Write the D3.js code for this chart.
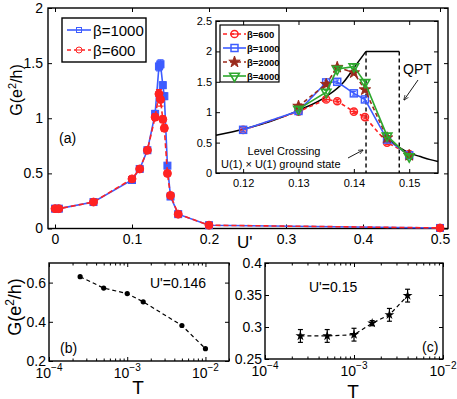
<!DOCTYPE html>
<html><head><meta charset="utf-8">
<script src="https://cdn.jsdelivr.net/npm/d3@7"></script>
<style>body{margin:0;background:#fff}svg{display:block;font-family:"Liberation Sans",Arial,sans-serif}</style>
</head><body><svg id="c" width="457" height="399"></svg>
<script>
// ---- Panel (a) main data ----
const uMain = [0, 0.005, 0.05, 0.1, 0.11, 0.12, 0.13, 0.135, 0.137, 0.14, 0.142, 0.146, 0.15, 0.16, 0.2, 0.5];
const gB1000 = [0.18, 0.18, 0.24, 0.44, 0.54, 0.71, 1.04, 1.47, 1.49, 1.30, 1.20, 0.57, 0.29, 0.13, 0.03, 0.005];
const eB1000 = [0.01, 0.01, 0.01, 0.02, 0.02, 0.02, 0.03, 0.04, 0.04, 0.03, 0.03, 0.02, 0.02, 0.01, 0.01, 0.01];
const gB600 = [0.18, 0.18, 0.24, 0.45, 0.54, 0.71, 1.01, 1.22, 1.17, 0.99, 0.91, 0.50, 0.30, 0.13, 0.03, 0.005];
const eB600 = [0.01, 0.01, 0.01, 0.02, 0.02, 0.02, 0.03, 0.04, 0.06, 0.03, 0.03, 0.02, 0.02, 0.01, 0.01, 0.01];
const xTicksA = [0, 0.1, 0.2, 0.3, 0.4, 0.5];
const yTicksA = [0, 0.5, 1, 1.5, 2];

// ---- Inset data ----
const uIn = [0.12, 0.13, 0.135, 0.137, 0.14, 0.142, 0.146, 0.15];
const in600 = [0.71, 1.01, 1.21, 1.18, 1.01, 0.92, 0.50, 0.31];
const in1000 = [0.71, 1.02, 1.49, 1.50, 1.31, 1.21, 0.55, 0.29];
const uIn2 = [0.13, 0.135, 0.137, 0.14, 0.142, 0.146, 0.15];
const in2000 = [1.10, 1.46, 1.74, 1.65, 1.37, 0.58, 0.29];
const in4000 = [1.05, 1.33, 1.71, 1.75, 1.49, 0.61, 0.27];
const curveLU = [0.1151, 0.12, 0.125, 0.13, 0.1352, 0.1381, 0.1405, 0.1422];
const curveLG = [0.62, 0.72, 0.85, 1.03, 1.27, 1.49, 1.79, 2.0];
const flatU = [0.1422, 0.1482];
const flatG = [2.0, 2.0];
const curveRU = [0.1455, 0.147, 0.1482, 0.15, 0.152, 0.1538, 0.1552];
const curveRG = [0.62, 0.50, 0.42, 0.33, 0.27, 0.22, 0.19];
const vLines = [0.1422, 0.1482];
const xTicksIn = [0.12, 0.13, 0.14, 0.15];
const yTicksIn = [0, 0.5, 1, 1.5, 2, 2.5];

// ---- Panel (b) ----
const tB = [2.5e-4, 5e-4, 1e-3, 1.6e-3, 5e-3, 1e-2];
const gB = [0.63, 0.572, 0.544, 0.502, 0.381, 0.263];
const yTicksB = [0.2, 0.4, 0.6];
// ---- Panel (c) ----
const tC = [2.5e-4, 5e-4, 1e-3, 1.6e-3, 2.5e-3, 4e-3];
const gC = [0.286, 0.286, 0.288, 0.306, 0.319, 0.349];
const eC = [0.010, 0.010, 0.010, 0.004, 0.010, 0.010];
const yTicksC = [0.25, 0.3, 0.35, 0.4];
const logMajor = [1e-4, 1e-3, 1e-2];

const svg = d3.select("#c");
const BLUE = "#3d5cff", RED = "#ff2222", BROWN = "#9a2a1c", GREEN = "#2ea82e";

function axes(g, x, y, xt, yt, opt) {
  const [x0, x1] = x.range(), [y1, y0] = y.range();
  const ts = opt.ts || 4;
  const bx = g.append("g").attr("transform", `translate(0,${y1})`)
    .call(d3.axisBottom(x).tickValues(xt).tickSize(-ts).tickPadding(opt.xpad || 6).tickFormat(opt.xfmt || (d => d)));
  const tx = g.append("g").attr("transform", `translate(0,${y0})`)
    .call(d3.axisTop(x).tickValues(xt).tickSize(-ts).tickFormat(""));
  const ly = g.append("g").attr("transform", `translate(${x0},0)`)
    .call(d3.axisLeft(y).tickValues(yt).tickSize(-ts).tickPadding(opt.ypad || 4).tickFormat(opt.yfmt || (d => d)));
  const ry = g.append("g").attr("transform", `translate(${x1},0)`)
    .call(d3.axisRight(y).tickValues(yt).tickSize(-ts).tickFormat(""));
  [bx, tx, ly, ry].forEach(a => {
    a.selectAll("path.domain").remove();
    a.selectAll("line").attr("stroke", "#000").attr("stroke-width", 1);
    a.selectAll("text").attr("fill", "#000").style("font-size", opt.fs + "px").style("font-family", '"Liberation Sans",Arial,sans-serif');
  });
  g.append("rect").attr("x", x0).attr("y", y0).attr("width", x1 - x0).attr("height", y1 - y0)
    .attr("fill", "none").attr("stroke", "#000").attr("stroke-width", 1.4);
  return bx;
}

function errbars(g, xs, ys, es, x, y, color, cw) {
  xs.forEach((u, i) => {
    const px = x(u), pa = y(ys[i] - es[i]), pb = y(ys[i] + es[i]);
    g.append("line").attr("x1", px).attr("x2", px).attr("y1", pa).attr("y2", pb).attr("stroke", color).attr("stroke-width", 1.2);
    [pa, pb].forEach(p => g.append("line").attr("x1", px - cw).attr("x2", px + cw).attr("y1", p).attr("y2", p).attr("stroke", color).attr("stroke-width", 1.2));
  });
}

// ================= Panel (a) =================
const xa = d3.scaleLinear().domain([-0.0091, 0.5104]).range([48, 448]);
const ya = d3.scaleLinear().domain([0, 2]).range([228.5, 8]);
const ga = svg.append("g");
const bxa = axes(ga, xa, ya, xTicksA, yTicksA, {fs: 14, xpad: 6, ypad: 5});
ga.append("g").attr("transform", `translate(0,228.5)`);

const lineA = d3.line().x(d => xa(d[0])).y(d => ya(d[1]));
// blue
ga.append("path").attr("d", lineA(uMain.map((u, i) => [u, gB1000[i]]))).attr("fill", "none").attr("stroke", BLUE).attr("stroke-width", 1.6);
errbars(ga, uMain, gB1000, eB1000, xa, ya, BLUE, 3);
ga.selectAll(".sqA").data(uMain).join("rect").attr("x", (u) => xa(u) - 3.5).attr("y", (u, i) => ya(gB1000[i]) - 3.5)
  .attr("width", 7).attr("height", 7).attr("fill", BLUE).attr("stroke", BLUE).attr("stroke-width", 1);
// red
ga.append("path").attr("d", lineA(uMain.map((u, i) => [u, gB600[i]]))).attr("fill", "none").attr("stroke", RED).attr("stroke-width", 1.6).attr("stroke-dasharray", "5,3");
errbars(ga, uMain, gB600, eB600, xa, ya, RED, 3);
ga.selectAll(".ciA").data(uMain).join("circle").attr("cx", u => xa(u)).attr("cy", (u, i) => ya(gB600[i]))
  .attr("r", 4).attr("fill", RED).attr("stroke", RED);

// legend (a)
const lg = ga.append("g");
lg.append("rect").attr("x", 62).attr("y", 18).attr("width", 84).attr("height", 44).attr("fill", "#fff").attr("stroke", "#000").attr("stroke-width", 1.4);
lg.append("line").attr("x1", 67).attr("x2", 91).attr("y1", 30).attr("y2", 30).attr("stroke", BLUE).attr("stroke-width", 1.6);
lg.append("rect").attr("x", 76.5).attr("y", 27.5).attr("width", 5).attr("height", 5).attr("fill", "none").attr("stroke", BLUE);
lg.append("text").attr("x", 93).attr("y", 35.5).text("β=1000").style("font-size", "15px");
lg.append("line").attr("x1", 67).attr("x2", 91).attr("y1", 50).attr("y2", 50).attr("stroke", RED).attr("stroke-width", 1.6).attr("stroke-dasharray", "4,3");
lg.append("circle").attr("cx", 79).attr("cy", 50).attr("r", 3).attr("fill", "#fff").attr("stroke", RED);
lg.append("line").attr("x1", 76).attr("x2", 82).attr("y1", 50).attr("y2", 50).attr("stroke", RED);
lg.append("text").attr("x", 93).attr("y", 55.5).text("β=600").style("font-size", "15px");

ga.append("text").attr("x", 59).attr("y", 143).text("(a)").style("font-size", "14px");
ga.append("text").attr("x", 237).attr("y", 248).text("U'").style("font-size", "17px");
ga.append("text").attr("transform", "translate(22,90) rotate(-90)").attr("text-anchor", "middle").style("font-size", "16px")
  .call(t => { t.append("tspan").text("G(e"); t.append("tspan").attr("dy", -6).style("font-size", "11px").text("2"); t.append("tspan").attr("dy", 6).text("/h)"); });

// ================= Inset =================
const xi = d3.scaleLinear().domain([0.1151, 0.1552]).range([216, 438]);
const yi = d3.scaleLinear().domain([0, 2.5]).range([173, 21]);
const gi = svg.append("g");
gi.append("rect").attr("x", 216).attr("y", 21).attr("width", 222).attr("height", 152).attr("fill", "#fff");
axes(gi, xi, yi, xTicksIn, yTicksIn, {fs: 11, xpad: 6, ypad: 4, yfmt: d => d});
const lineI = d3.line().x(d => xi(d[0])).y(d => yi(d[1]));
const smooth = d3.line().x(d => xi(d[0])).y(d => yi(d[1])).curve(d3.curveMonotoneX);
gi.append("path").attr("d", smooth(curveLU.map((u, i) => [u, curveLG[i]]))).attr("fill", "none").attr("stroke", "#000").attr("stroke-width", 1.5);
gi.append("path").attr("d", lineI(flatU.map((u, i) => [u, flatG[i]]))).attr("fill", "none").attr("stroke", "#000").attr("stroke-width", 1.5);
gi.append("path").attr("d", smooth(curveRU.map((u, i) => [u, curveRG[i]]))).attr("fill", "none").attr("stroke", "#000").attr("stroke-width", 1.5);
vLines.forEach(v => gi.append("line").attr("x1", xi(v)).attr("x2", xi(v)).attr("y1", yi(2)).attr("y2", yi(0)).attr("stroke", "#000").attr("stroke-width", 1.4).attr("stroke-dasharray", "4,3"));

function series(xs, ys, color, dash, marker) {
  const p = gi.append("path").attr("d", lineI(xs.map((u, i) => [u, ys[i]]))).attr("fill", "none").attr("stroke", color).attr("stroke-width", 1.6);
  if (dash) p.attr("stroke-dasharray", "4,3");
  errbars(gi, xs, ys, xs.map(() => 0.03), xi, yi, color, 2);
  xs.forEach((u, i) => marker(gi, xi(u), yi(ys[i])));
}
const mCircle = (g, x, y) => { g.append("circle").attr("cx", x).attr("cy", y).attr("r", 3.6).attr("fill", "none").attr("stroke", RED).attr("stroke-width", 1.5); g.append("line").attr("x1", x - 3).attr("x2", x + 3).attr("y1", y).attr("y2", y).attr("stroke", RED).attr("stroke-width", 1.2); };
const mSquare = (g, x, y) => g.append("rect").attr("x", x - 3.5).attr("y", y - 3.5).attr("width", 7).attr("height", 7).attr("fill", "none").attr("stroke", BLUE).attr("stroke-width", 1.5);
const mStar = (g, x, y) => g.append("path").attr("d", d3.symbol(d3.symbolStar, 40)()).attr("transform", `translate(${x},${y})`).attr("fill", BROWN).attr("stroke", BROWN);
const mTri = (g, x, y) => g.append("path").attr("d", d3.symbol(d3.symbolTriangle, 40)()).attr("transform", `translate(${x},${y}) rotate(180)`).attr("fill", "none").attr("stroke", GREEN).attr("stroke-width", 1.6);
series(uIn, in600, RED, true, mCircle);
series(uIn, in1000, BLUE, false, mSquare);
series(uIn2, in2000, BROWN, true, mStar);
series(uIn2, in4000, GREEN, false, mTri);

// inset legend
const il = gi.append("g");
il.append("rect").attr("x", 220).attr("y", 25).attr("width", 59).attr("height", 57).attr("fill", "#fff").attr("stroke", "#000").attr("stroke-width", 1.2);
const legI = [["β=600", RED, true, mCircle, 34], ["β=1000", BLUE, false, mSquare, 48], ["β=2000", BROWN, true, mStar, 62], ["β=4000", GREEN, false, mTri, 76]];
legI.forEach(([lab, c, dash, m, yy]) => {
  const l = il.append("line").attr("x1", 223).attr("x2", 246).attr("y1", yy).attr("y2", yy).attr("stroke", c).attr("stroke-width", 1.6);
  if (dash) l.attr("stroke-dasharray", "4,3");
  m(il, 234.5, yy);
  il.append("text").attr("x", 247).attr("y", yy + 3.5).text(lab).style("font-size", "9.5px").style("font-weight", "bold");
});

gi.append("text").attr("x", 284).attr("y", 155).attr("text-anchor", "middle").text("Level Crossing").style("font-size", "11px");
gi.append("text").attr("x", 221).attr("y", 168).text("U(1) × U(1) ground state").style("font-size", "11px");
gi.append("text").attr("x", 403).attr("y", 74).text("QPT").style("font-size", "14px");
svg.append("defs").append("marker").attr("id", "ah").attr("viewBox", "0 0 10 10").attr("refX", 9).attr("refY", 5)
  .attr("markerWidth", 6).attr("markerHeight", 6).attr("orient", "auto")
  .append("path").attr("d", "M0,1 L10,5 L0,9").attr("fill", "none").attr("stroke", "#000").attr("stroke-width", 1.2);
gi.append("line").attr("x1", 348).attr("y1", 158).attr("x2", 363).attr("y2", 150).attr("stroke", "#000").attr("stroke-width", 0.9).attr("marker-end", "url(#ah)");
gi.append("line").attr("x1", 418).attr("y1", 80).attr("x2", 404).attr("y2", 100).attr("stroke", "#000").attr("stroke-width", 0.9).attr("marker-end", "url(#ah)");

// ================= Log panels =================
function logPanel(x, y, yt, pad) {
  const g = svg.append("g");
  const [x0, x1] = x.range(), [y1, y0] = y.range();
  const minors = [];
  [1e-4, 1e-3, 1e-2].forEach(d => { for (let k = 2; k <= 9; k++) { const v = d * k; if (v <= x.domain()[1] * 1.0001) minors.push(v); } });
  [[y1, d3.axisBottom], [y0, d3.axisTop]].forEach(([yy, ax]) => {
    const a = g.append("g").attr("transform", `translate(0,${yy})`).call(ax(x).tickValues(minors).tickSize(-2.5).tickFormat(""));
    a.selectAll("path.domain").remove(); a.selectAll("line").attr("stroke", "#000");
  });
  axes(g, x, y, logMajor, yt, {fs: 14, xpad: 8, ypad: 3, xfmt: () => ""});
  logMajor.forEach(v => {
    const t = g.append("text").attr("x", x(v)).attr("y", y1 + 17).attr("text-anchor", "middle").style("font-size", "14px");
    t.append("tspan").text("10");
    t.append("tspan").attr("dy", -7).style("font-size", "10px").text("−" + Math.round(-Math.log10(v)));
  });
  return g;
}
// (b)
const xb = d3.scaleLog().domain([1e-4, 2e-2]).range([49, 229]);
const yb = d3.scaleLinear().domain([0.2, 0.7]).range([361, 263]);
const gbp = logPanel(xb, yb, yTicksB);
const lineB = d3.line().x(d => xb(d[0])).y(d => yb(d[1]));
gbp.append("path").attr("d", lineB(tB.map((t, i) => [t, gB[i]]))).attr("fill", "none").attr("stroke", "#000").attr("stroke-width", 1.2).attr("stroke-dasharray", "4,3");
tB.forEach((t, i) => gbp.append("circle").attr("cx", xb(t)).attr("cy", yb(gB[i])).attr("r", 2.6).attr("fill", "#000"));
gbp.append("text").attr("x", 150).attr("y", 288).text("U'=0.146").style("font-size", "14px");
gbp.append("text").attr("x", 60).attr("y", 353).text("(b)").style("font-size", "14px");
gbp.append("text").attr("x", 138).attr("y", 394).attr("text-anchor", "middle").text("T").style("font-size", "19px");
gbp.append("text").attr("transform", "translate(21,307) rotate(-90)").attr("text-anchor", "middle").style("font-size", "18px")
  .call(t => { t.append("tspan").text("G(e"); t.append("tspan").attr("dy", -7).style("font-size", "12px").text("2"); t.append("tspan").attr("dy", 7).text("/h)"); });

// (c)
const xc = d3.scaleLog().domain([1e-4, 1e-2]).range([265, 443]);
const yc = d3.scaleLinear().domain([0.25, 0.4]).range([359, 263]);
const gcp = logPanel(xc, yc, yTicksC);
const lineC = d3.line().x(d => xc(d[0])).y(d => yc(d[1]));
gcp.append("path").attr("d", lineC(tC.map((t, i) => [t, gC[i]]))).attr("fill", "none").attr("stroke", "#000").attr("stroke-width", 1.2).attr("stroke-dasharray", "4,3");
errbars(gcp, tC, gC, eC, xc, yc, "#000", 2.5);
tC.forEach((t, i) => gcp.append("path").attr("d", d3.symbol(d3.symbolStar, 30)()).attr("transform", `translate(${xc(t)},${yc(gC[i])})`).attr("fill", "#000"));
gcp.append("text").attr("x", 309).attr("y", 292).text("U'=0.15").style("font-size", "14px");
gcp.append("text").attr("x", 422).attr("y", 352).text("(c)").style("font-size", "14px");
gcp.append("text").attr("x", 353).attr("y", 398).attr("text-anchor", "middle").text("T").style("font-size", "19px");
</script></body></html>
